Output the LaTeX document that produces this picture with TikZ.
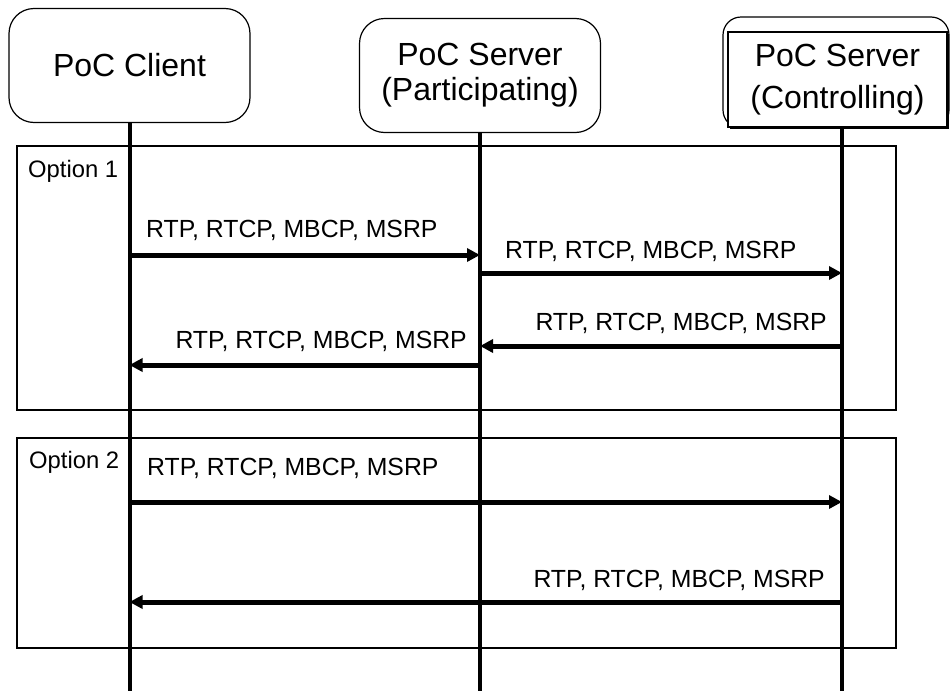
\documentclass[tikz,border=0pt]{standalone}
\usepackage{fontspec}
\setmainfont{Liberation Sans}
\usetikzlibrary{arrows.meta}
\begin{document}
\begin{tikzpicture}[x=1pt,y=-1pt,
  actor/.style={draw, line width=1.2pt, rounded corners=25pt, minimum width=241pt, minimum height=114pt, align=center, inner sep=0pt, font=\fontsize{32}{35}\selectfont},
  ctrlbox/.style={draw, fill=white, line width=1.2pt, minimum width=219pt, minimum height=95pt, align=center, inner sep=0pt, font=\fontsize{32}{42}\selectfont},
  frame/.style={draw, line width=1.5pt},
  life/.style={line width=4pt},
  msg/.style={line width=5pt, -{Triangle[length=13pt,width=13pt]}},
  lbl/.style={font=\fontsize{24.8}{28}\selectfont, inner sep=0pt},
  opt/.style={font=\fontsize{23.8}{27}\selectfont, inner sep=0pt, anchor=base west}]
\useasboundingbox (0,0) rectangle (951,691);
% frames
\draw[frame] (17,146) rectangle (896,410);
\draw[frame] (17,438) rectangle (896,648);
\node[opt] (o1) at (28,177) {Option 1};
\node[opt] (o2) at (29,468) {Option 2};
% actors
\node[actor] (client) at (129.5,65.5) {PoC Client};
\node[actor] (part) at (480,75.5) {PoC Server\\(Participating)};
\node[draw, line width=1.2pt, rounded corners=18pt, minimum width=226pt, minimum height=111pt] (ctrlbg) at (836,72.5) {};
\node[fill=black, minimum width=219pt, minimum height=95pt, inner sep=0pt] (ctrlsh) at (839.5,81.5) {};
\node[ctrlbox] (ctrl) at (837.5,79.5) {PoC Server\\(Controlling)};
% lifelines
\coordinate (Lc) at (129.5,691);
\coordinate (Lp) at (480,691);
\coordinate (Lk) at (842,691);
\draw[life] (client.south -| Lc) -- (Lc);
\draw[life] (part.south -| Lp) -- (Lp);
\draw[life] (ctrl.south -| Lk) -- (Lk);
% message rows
\coordinate (m1) at (0,255);
\coordinate (m2) at (0,273);
\coordinate (m3) at (0,346);
\coordinate (m4) at (0,365);
\coordinate (m5) at (0,502);
\coordinate (m6) at (0,602);
\draw[msg] (Lc |- m1) -- (Lp |- m1);
\draw[msg] (Lp |- m2) -- (Lk |- m2);
\draw[msg] (Lk |- m3) -- (Lp |- m3);
\draw[msg] (Lp |- m4) -- (Lc |- m4);
\draw[msg] (Lc |- m5) -- (Lk |- m5);
\draw[msg] (Lk |- m6) -- (Lc |- m6);
% labels
\node[lbl, anchor=base west] (t1) at (146,237) {RTP, RTCP, MBCP, MSRP};
\node[lbl, anchor=base west] (t2) at (505,258) {RTP, RTCP, MBCP, MSRP};
\node[lbl, anchor=base east] (t3) at (827,330) {RTP, RTCP, MBCP, MSRP};
\node[lbl, anchor=base east] (t4) at (467,348) {RTP, RTCP, MBCP, MSRP};
\node[lbl, anchor=base west] (t5) at (147,475) {RTP, RTCP, MBCP, MSRP};
\node[lbl, anchor=base east] (t6) at (825,587) {RTP, RTCP, MBCP, MSRP};
\end{tikzpicture}
\end{document}
